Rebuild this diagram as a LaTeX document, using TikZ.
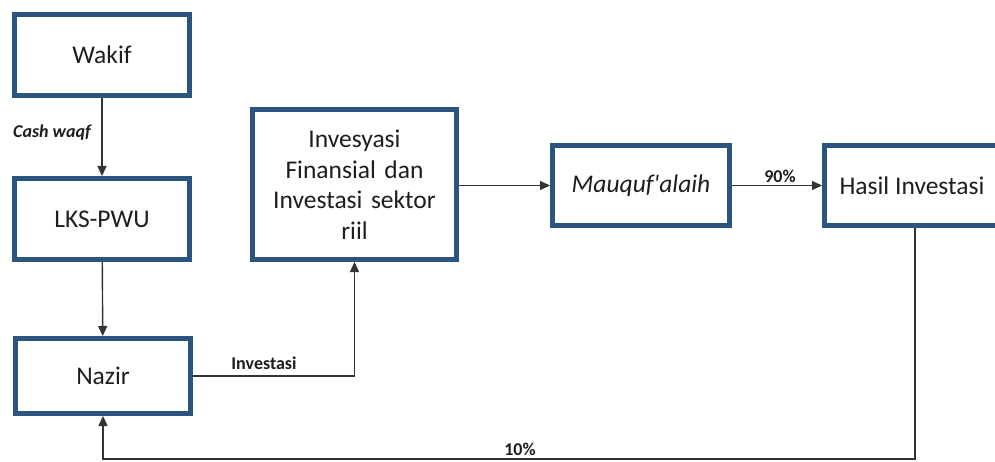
\documentclass[tikz,border=0pt]{standalone}
\usepackage{fontspec}
\setmainfont{Carlito}
\usetikzlibrary{arrows.meta}
\definecolor{boxblue}{HTML}{2B557F}
\definecolor{txt}{HTML}{1E1E1E}
\definecolor{linec}{HTML}{333333}
\tikzset{
  box/.style={draw=boxblue, line width=5pt, fill=white, text=txt, font=\fontsize{25.5}{30.5}\selectfont, align=center, inner sep=2pt},
  conn/.style={draw=linec, line width=1.4pt, -{Triangle[length=10pt,width=9pt]}},
  lbl/.style={text=txt, font=\fontsize{18}{20}\selectfont\bfseries, inner sep=0pt}
}
\begin{document}
\begin{tikzpicture}[x=1pt,y=-1pt]
\useasboundingbox[fill=white] (0,0) rectangle (995,462);
\node[box, minimum width=175pt, minimum height=81pt] (wakif) at (102,55) {Wakif};
\node[box, minimum width=175pt, minimum height=81pt] (lks) at (102,219) {LKS-PWU};
\node[box, minimum width=175pt, minimum height=75pt] (nazir) at (103,376) {Nazir};
\node[box, minimum width=204pt, minimum height=150pt, text width=196pt] (inv) at (354.5,184.5) {Invesyasi\\Finansial dan\\Investasi sektor\\riil};
\node[box, minimum width=177pt, minimum height=80pt] (mauquf) at (641,185.5) {\itshape Mauquf\textquotesingle alaih};
\node[box, minimum width=175pt, minimum height=80pt] (hasil) at (912,185.5) {Hasil Investasi};
\draw[conn] (wakif) -- (lks);
\draw[conn] (lks) -- (nazir);
\draw[conn] (nazir.east) -| (inv.south);
\draw[conn] (inv.east |- mauquf.west) -- (mauquf.west);
\draw[conn] (mauquf.east) -- (hasil.west);
\coordinate (bend) at (915,459);
\draw[conn] (hasil.south -| bend) -- (bend) -| (nazir.south);
\node[lbl, font=\fontsize{18}{20}\selectfont\bfseries\itshape] (cw) at (52,133) {Cash waqf};
\node[lbl] (inl) at (264,363) {Investasi};
\node[lbl] (p90) at (780,176) {90\%};
\node[lbl] (p10) at (520,449) {10\%};
\end{tikzpicture}
\end{document}
